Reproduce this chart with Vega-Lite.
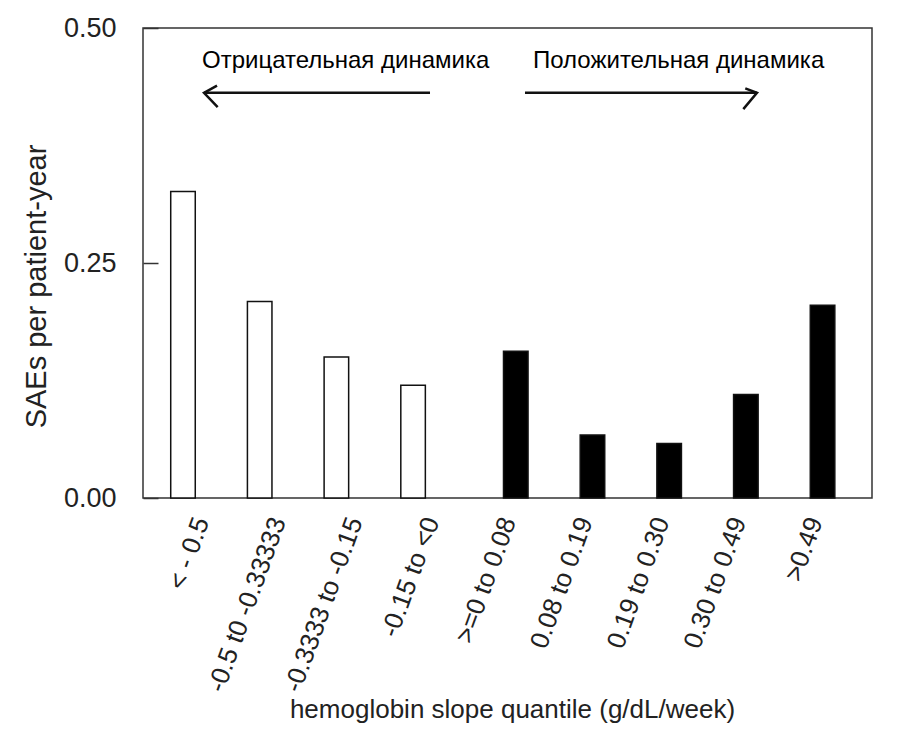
{
  "$schema": "https://vega.github.io/schema/vega-lite/v6.json",
  "autosize": "none",
  "width": 729,
  "height": 470,
  "padding": {"left": 143, "top": 28, "right": 28, "bottom": 244},
  "background": "white",
  "config": {
    "view": {"stroke": "#333", "strokeWidth": 1.5},
    "font": "Liberation Sans"
  },
  "datasets": {
    "bars": [
      {"quantile": "< - 0.5", "direction": "negative", "rate": 0.326},
      {"quantile": "-0.5 t0 -0.33333", "direction": "negative", "rate": 0.209},
      {"quantile": "-0.3333 to -0.15", "direction": "negative", "rate": 0.150},
      {"quantile": "-0.15 to <0", "direction": "negative", "rate": 0.120},
      {"quantile": ">=0 to 0.08", "direction": "positive", "rate": 0.156},
      {"quantile": "0.08 to 0.19", "direction": "positive", "rate": 0.067},
      {"quantile": "0.19 to 0.30", "direction": "positive", "rate": 0.058},
      {"quantile": "0.30 to 0.49", "direction": "positive", "rate": 0.110},
      {"quantile": ">0.49", "direction": "positive", "rate": 0.205}
    ],
    "notes": [
      {"text": "Отрицательная динамика", "pos": 0.0809, "level": 0.4574},
      {"text": "Положительная динамика", "pos": 0.535, "level": 0.4574}
    ],
    "arrows": [
      {"dir": "left", "from": 0.3937, "to": 0.0837, "level": 0.431},
      {"dir": "right", "from": 0.524, "to": 0.8422, "level": 0.431}
    ]
  },
  "layer": [
    {
      "data": {"name": "bars"},
      "mark": {
        "type": "bar",
        "stroke": "#111",
        "strokeWidth": 1.5,
        "xOffset": {"expr": "datum.direction === 'negative' ? -26 : 0"}
      },
      "encoding": {
        "x": {
          "field": "quantile",
          "type": "nominal",
          "sort": null,
          "scale": {"paddingInner": 0.68, "paddingOuter": 0.5926, "align": 0.591},
          "axis": {
            "title": "hemoglobin slope quantile (g/dL/week)",
            "labelAngle": -70,
            "labelFontSize": 26,
            "labelPadding": 20,
            "labelOffset": -7,
            "labelLimit": 400,
            "labelOverlap": false,
            "labelColor": "#222",
            "ticks": false,
            "domain": false,
            "titleFontSize": 26,
            "titleFontWeight": "normal",
            "titleColor": "#222",
            "titleX": 369,
            "titleY": 219,
            "titleBaseline": "alphabetic"
          }
        },
        "y": {
          "field": "rate",
          "type": "quantitative",
          "scale": {"domain": [0, 0.5]},
          "axis": {
            "title": "SAEs per patient-year",
            "values": [0, 0.25, 0.5],
            "format": ".2f",
            "grid": false,
            "domain": false,
            "tickSize": -15,
            "tickColor": "#333",
            "tickWidth": 1.5,
            "labelFontSize": 27,
            "labelPadding": 42,
            "labelColor": "#222",
            "labelDy": 4,
            "labelFlush": false,
            "titleFontSize": 29,
            "titleFontWeight": "normal",
            "titleColor": "#222",
            "titleX": -98,
            "titleY": 258,
            "titleBaseline": "alphabetic"
          }
        },
        "fill": {
          "field": "direction",
          "type": "nominal",
          "scale": {"domain": ["negative", "positive"], "range": ["white", "black"]},
          "legend": null
        }
      }
    },
    {
      "data": {"name": "notes"},
      "mark": {"type": "text", "align": "left", "baseline": "alphabetic", "fontSize": 24, "color": "#000"},
      "encoding": {
        "x": {"field": "pos", "type": "quantitative", "scale": {"domain": [0, 1]}, "axis": null},
        "y": {"field": "level", "type": "quantitative", "scale": {"domain": [0, 0.5]}},
        "text": {"field": "text"}
      }
    },
    {
      "data": {"name": "arrows"},
      "mark": {"type": "rule", "color": "#111", "strokeWidth": 2.5},
      "encoding": {
        "x": {"field": "from", "type": "quantitative", "scale": {"domain": [0, 1]}, "axis": null},
        "x2": {"field": "to"},
        "y": {"field": "level", "type": "quantitative", "scale": {"domain": [0, 0.5]}}
      }
    },
    {
      "data": {"name": "arrows"},
      "mark": {"type": "point", "filled": false, "stroke": "#111", "strokeWidth": 2.5, "size": 676, "opacity": 1},
      "encoding": {
        "x": {"field": "to", "type": "quantitative", "scale": {"domain": [0, 1]}, "axis": null},
        "y": {"field": "level", "type": "quantitative", "scale": {"domain": [0, 0.5]}},
        "shape": {
          "field": "dir",
          "type": "nominal",
          "scale": {"domain": ["left", "right"], "range": ["M1,-0.55L0,0L1.05,1.1", "M-0.9,-0.35L0,0L-1.05,1.25"]},
          "legend": null
        }
      }
    }
  ],
  "resolve": {"scale": {"x": "independent"}}
}
